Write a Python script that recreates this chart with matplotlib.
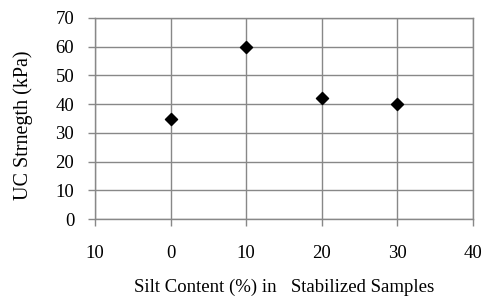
import matplotlib
matplotlib.use("Agg")
import matplotlib.pyplot as plt

# donnees
silt = [0, 10, 20, 30]
strength = [35, 60, 42, 40]
x_ticks = [-10, 0, 10, 20, 30, 40]
x_labels = ["10", "0", "10", "20", "30", "40"]
y_ticks = [0, 10, 20, 30, 40, 50, 60, 70]

plt.rcParams['font.family'] = ['Liberation Serif', 'DejaVu Serif']

fig = plt.figure(figsize=(4.9, 3.08), dpi=100)
ax = fig.add_axes([95/490, 1 - 219/308, (473-95)/490, (219-18)/308])

ax.scatter(silt, strength, marker='D', s=38, color='black', zorder=3)

ax.set_xlim(-10, 40)
ax.set_ylim(0, 70)
ax.set_xticks(x_ticks)
ax.set_xticklabels(x_labels)
ax.set_yticks(y_ticks)
ax.grid(True, color='#888888', linewidth=1)
for s in ax.spines.values():
    s.set_color('#888888')
    s.set_linewidth(1)
ax.tick_params(axis='x', direction='out', length=5, width=1, color='#888888', pad=14, labelsize=13.5)
ax.tick_params(axis='y', direction='out', length=5, width=1, color='#888888', pad=10, labelsize=13.5)

ax.set_xlabel("Silt Content (%) in   Stabilized Samples", fontsize=13.5, labelpad=12)
ax.set_ylabel("UC Strnegth (kPa)", fontsize=14.5)
ax.yaxis.set_label_coords(-0.165, 0.465)

fig.savefig("out.png", dpi=100)
